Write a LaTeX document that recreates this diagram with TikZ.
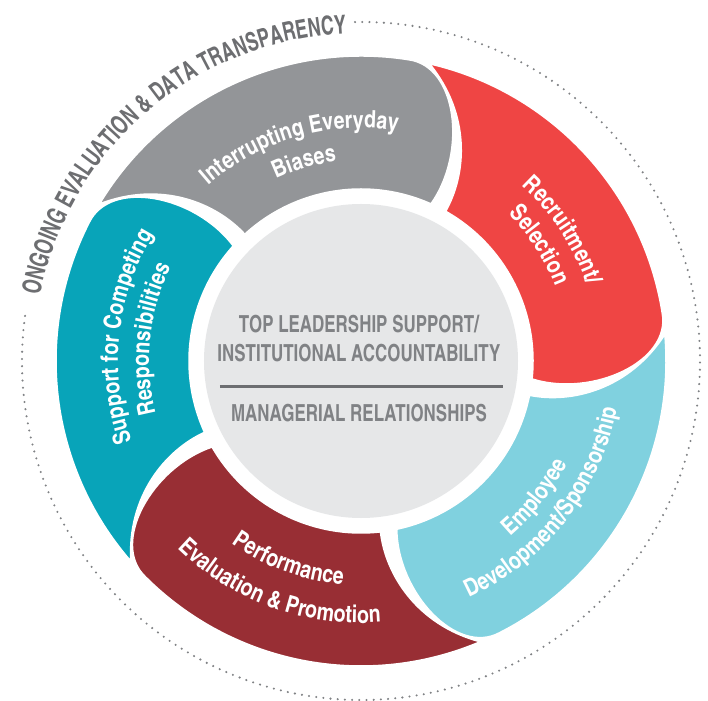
\documentclass[tikz,border=0pt]{standalone}
\usepackage{fontspec}
\usetikzlibrary{decorations.text}

% Condensed bold sans for all labels
\newfontfamily\petalfont{texgyreheroscn-bold.otf}
\newfontfamily\hubfont{texgyreheroscn-bold.otf}[FakeStretch=0.88]
\newfontfamily\ringfont{texgyreheroscn-bold.otf}[FakeStretch=0.84]

\definecolor{petalgray}{RGB}{147,149,152}
\definecolor{petalred}{RGB}{239,69,68}
\definecolor{petalsky}{RGB}{128,209,223}
\definecolor{petalwine}{RGB}{152,46,52}
\definecolor{petalteal}{RGB}{8,164,185}
\definecolor{hubfill}{RGB}{230,231,232}
\definecolor{hubink}{RGB}{128,130,133}
\definecolor{ringink}{RGB}{109,110,113}

\newcommand\petaltext{\petalfont\fontsize{24}{28}\selectfont\color{white}}
\newcommand\ringtext{\ringfont\fontsize{26}{30}\selectfont\color{ringink}}

% label on a clockwise arc (letters stand outward): centre angle, radius, text
\newcommand\cwlabel[3]{%
  \path[decorate, decoration={text along path, text align=center,
        text={|\petaltext|#3}}]
    (#1+60:#2) arc[start angle=#1+60, end angle=#1-60, radius=#2];}
% label on a counter-clockwise arc (letters stand inward)
\newcommand\ccwlabel[3]{%
  \path[decorate, decoration={text along path, text align=center,
        text={|\petaltext|#3}}]
    (#1-60:#2) arc[start angle=#1-60, end angle=#1+60, radius=#2];}

\tikzset{
  petal/.style={fill=#1, draw=white, line width=1.5pt},
  hubtext/.style={font=\hubfont\fontsize{23.5}{28}\selectfont, text=hubink, inner sep=0pt},
  hubrule/.style={draw=ringink, line width=3pt},
  dotring/.style={draw=hubink, line width=2.3pt, line cap=round, dash pattern=on 0pt off 7.2pt}
}

\begin{document}
\begin{tikzpicture}[x=1pt, y=1pt]
  \useasboundingbox (-361,-339) rectangle (347,361);
  \fill[white] (-361,-339) rectangle (347,361);

  % outer dotted ring, open where the title runs
  \draw[dotring] (91:339) arc[start angle=91, end angle=-188, radius=339];

  % title along the outer ring
  \path[decorate, decoration={text along path, text align=center,
        text={|\ringtext|ONGOING EVALUATION {\&} DATA TRANSPARENCY}}]
    (180.5:328) arc[start angle=180.5, end angle=80.5, radius=328];

  % five swirl petals: pointed tip at the leading end, rounded cap at the trailing end
  \foreach \a/\c in {149/petalgray, 77/petalred, 5/petalsky, -67/petalwine, -139/petalteal}{
    \fill[petal=\c] (\a:305) arc[start angle=\a, end angle=\a-68, radius=305]
      .. controls (\a-77:310) and (\a-86:235) .. (\a-83:172)
      arc[start angle=\a-83, end angle=\a-16.5, radius=172]
      .. controls (\a-16.5:215) and (\a-11:270) .. (\a:305) -- cycle;
  }

  % hub
  \fill[hubfill] (0,0) circle[radius=157];
  \node[hubtext, anchor=base] (hubtop) at (-2,28) {TOP LEADERSHIP SUPPORT/};
  \node[hubtext, anchor=base] (hubmid) at (-2,-1) {INSTITUTIONAL ACCOUNTABILITY};
  \coordinate (ruleL) at (-141,-26);
  \coordinate (ruleR) at (142,-26);
  \draw[hubrule] (ruleL) -- (ruleR);
  \node[hubtext, anchor=base] (hubbot) at (-2,-61) {MANAGERIAL RELATIONSHIPS};

  % petal labels
  \cwlabel{106}{233}{Interrupting Everyday}
  \cwlabel{106}{201}{Biases}
  \cwlabel{33}{238}{Recruitment/}
  \cwlabel{33}{208}{Selection}
  \ccwlabel{-38}{230}{Employee}
  \ccwlabel{-38}{260}{Development/Sponsorship}
  \ccwlabel{-110}{224}{Performance}
  \ccwlabel{-110}{262}{Evaluation {\&} Promotion}
  \cwlabel{174}{243}{Support for Competing}
  \cwlabel{174}{212}{Responsibilities}
\end{tikzpicture}
\end{document}
